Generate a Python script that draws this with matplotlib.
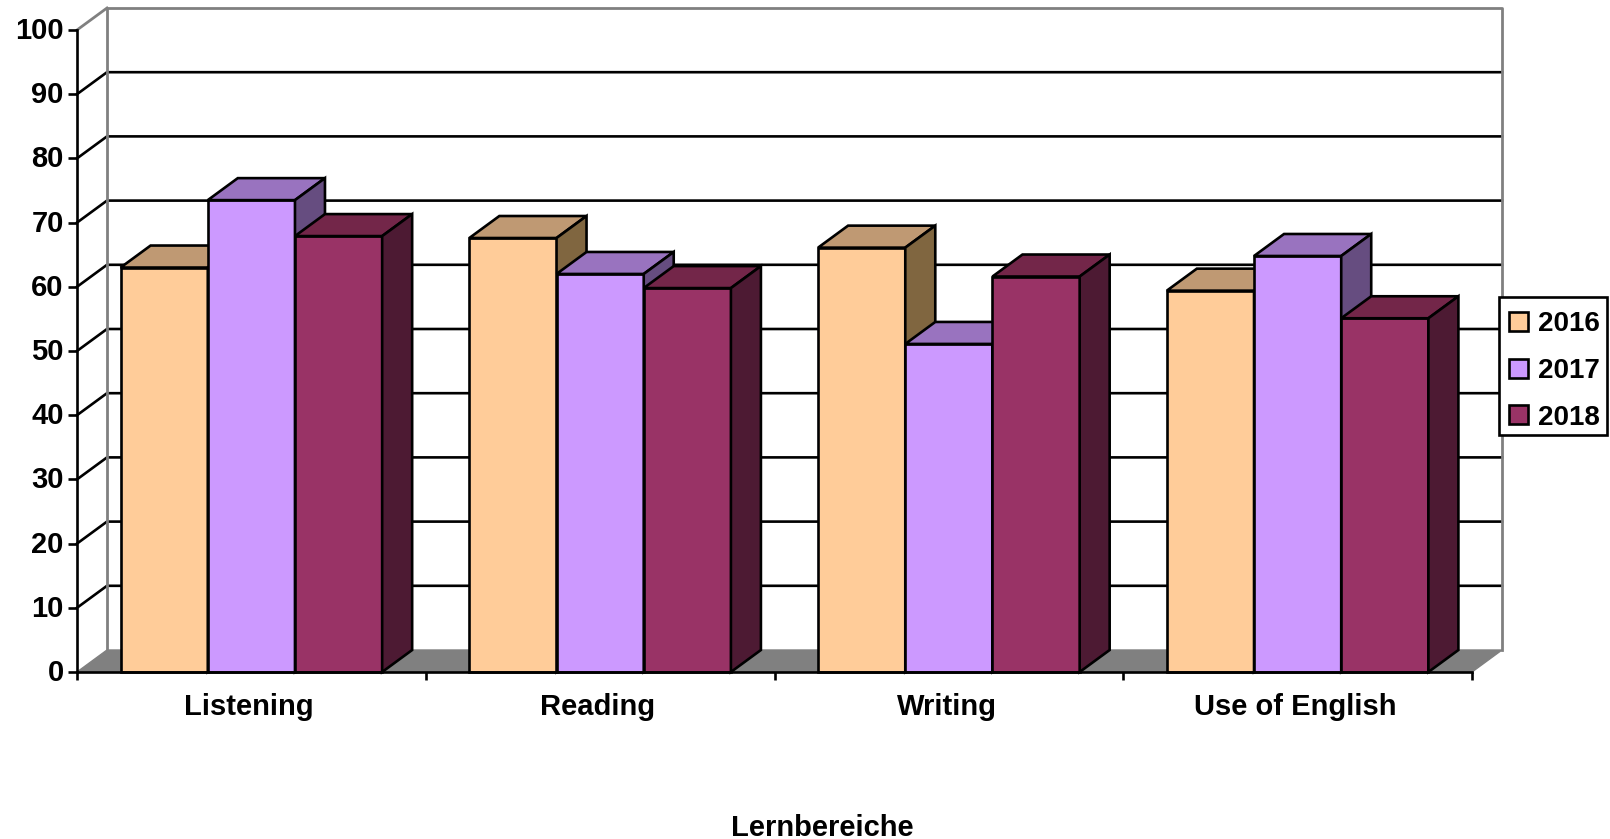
import matplotlib
matplotlib.use("Agg")
import matplotlib.pyplot as plt
from matplotlib.patches import Patch, Rectangle
from matplotlib.transforms import ScaledTranslation

categories = ["Listening", "Reading", "Writing", "Use of English"]
years = ["2016", "2017", "2018"]
values_2016 = [63.0, 67.6, 66.1, 59.4]
values_2017 = [73.5, 62.0, 51.1, 64.8]
values_2018 = [67.9, 59.8, 61.6, 55.1]
y_ticks = [0, 10, 20, 30, 40, 50, 60, 70, 80, 90, 100]

front_colors = ["#FFCC99", "#CC99FF", "#993366"]
top_colors = ["#BF9973", "#9973BF", "#732649"]
side_colors = ["#806640", "#664D80", "#4D1A33"]
wall_gray = "#808080"

W, H = 1610, 839
plt.rcParams["font.family"] = ["Liberation Sans", "DejaVu Sans"]
plt.rcParams["font.weight"] = "bold"
plt.rcParams["font.size"] = 21

fig = plt.figure(figsize=(W / 100, H / 100), dpi=100)
# plot box in pixels: x 77..1472, y 30..672
ax = fig.add_axes([77 / W, (H - 672) / H, (1472 - 77) / W, (672 - 30) / H])
ax.set_xlim(0, 4)
ax.set_ylim(0, 100)

# depth of the fake 3D, 30 px right and 22 px up
dx = 30 / (1395 / 4)
dy = 22 / (642 / 100)
lw = 1.9
bar_w = 0.25

# floor and walls
ax.fill([0, 4, 4 + dx, dx], [0, 0, dy, dy], color=wall_gray, lw=1, zorder=1, clip_on=False)
ax.plot([dx, dx, 4 + dx, 4 + dx], [dy, 100 + dy, 100 + dy, dy], color=wall_gray, lw=2,
        zorder=1.2, clip_on=False)
ax.plot([0, dx], [100, 100 + dy], color=wall_gray, lw=2, zorder=1.2, clip_on=False)
for t in y_ticks[1:-1]:
    ax.plot([0, dx, 4 + dx], [t, t + dy, t + dy], color="black", lw=lw, zorder=1.1, clip_on=False)

# bars, left to right so each one hides the side of the one before
series = [values_2016, values_2017, values_2018]
z = 2.0
for c in range(len(categories)):
    for s in range(3):
        x0 = c + 0.125 + s * bar_w
        x1 = x0 + bar_w
        v = series[s][c]
        ax.bar(x0, v, bar_w, align="edge", color=front_colors[s], edgecolor="black", lw=lw,
               zorder=z, clip_on=False)
        ax.fill([x0, x1, x1 + dx, x0 + dx], [v, v, v + dy, v + dy], facecolor=top_colors[s],
                edgecolor="black", lw=lw, zorder=z, clip_on=False, joinstyle="miter")
        ax.fill([x1, x1 + dx, x1 + dx, x1], [0, dy, v + dy, v], facecolor=side_colors[s],
                edgecolor="black", lw=lw, zorder=z, clip_on=False, joinstyle="miter")
        z += 0.01

ax.spines["top"].set_visible(False)
ax.spines["right"].set_visible(False)
ax.spines["left"].set_linewidth(lw)
ax.spines["bottom"].set_linewidth(lw)
ax.spines["left"].set_zorder(5)
ax.spines["bottom"].set_zorder(5)

ax.set_yticks(y_ticks)
ax.tick_params(axis="y", length=6.5, width=lw, pad=3)
ax.set_xticks(range(5))
ax.set_xticklabels([])
ax.set_xticks([i + 0.5 for i in range(4)], categories, minor=True)
ax.tick_params(axis="x", which="major", length=6, width=lw)
ax.tick_params(axis="x", which="minor", length=0, pad=15)
ax.set_xlabel("Lernbereiche", fontweight="bold", labelpad=67, x=0.534)

# nudge tick labels by a pixel or two
for lab in ax.get_yticklabels():
    lab.set_transform(lab.get_transform() + ScaledTranslation(0, 1.5 / 72, fig.dpi_scale_trans))
for lab in ax.get_xticklabels(minor=True):
    lab.set_transform(lab.get_transform() + ScaledTranslation(-1.5 / 72, 0, fig.dpi_scale_trans))

# legend frame drawn apart, the legend box itself can't have different x/y padding
frame = Rectangle((1499 / W, (H - 435) / H), 108 / W, 138 / H, transform=fig.transFigure,
                  facecolor="white", edgecolor="black", lw=lw, zorder=9, clip_on=False)
ax.add_patch(frame)
handles = [Patch(facecolor=front_colors[i], edgecolor="black", lw=lw, label=years[i]) for i in range(3)]
leg = ax.legend(handles=handles, loc="upper left", bbox_to_anchor=(1499 / W, (H - 301) / H),
                bbox_transform=fig.transFigure, borderaxespad=0, frameon=False,
                handlelength=0.68, handleheight=0.68,
                handletextpad=0.36, labelspacing=0.75, borderpad=0.36, fontsize=20)
leg.set_zorder(10)

fig.savefig("out.png", dpi=100)
